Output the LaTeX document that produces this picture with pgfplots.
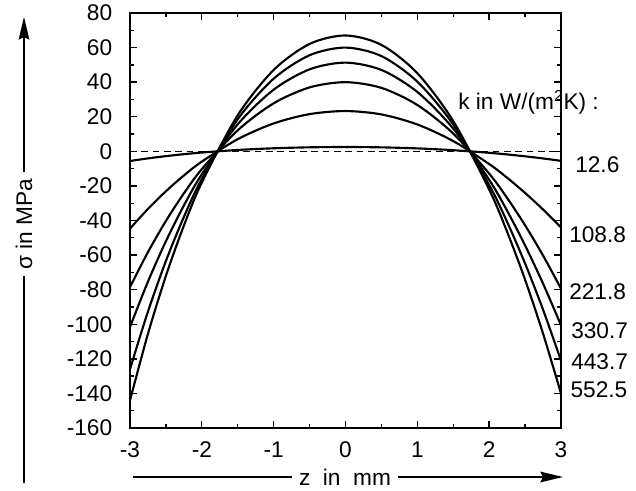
\documentclass[border=0pt]{standalone}
\usepackage{fontspec}
\setmainfont{Liberation Sans}
\usepackage{pgfplots}
\pgfplotsset{compat=1.18}
\usetikzlibrary{arrows.meta}
\begin{document}
\fontsize{17}{20}\selectfont
\begin{tikzpicture}[font=\fontsize{17}{20}\selectfont]
\useasboundingbox (-97.5pt,-46.5pt) rectangle (379.5pt,321pt);
\begin{axis}[at={(0pt,0pt)}, anchor=south west, scale only axis,
  width=323.25pt, height=311.25pt,
  xmin=-3, xmax=3, ymin=-160, ymax=80,
  xtick={-3,-2,-1,0,1,2,3}, ytick={-160,-140,-120,-100,-80,-60,-40,-20,0,20,40,60,80},
  minor x tick num=1, minor y tick num=1,
  tick align=inside,
  major tick length=5pt, minor tick length=3pt,
  axis line style={line width=1.5pt},
  tick style={line width=1pt, black},
  /pgf/number format/assume math mode=true,
  ticklabel style={font=\fontsize{17}{20}\selectfont},
  yticklabel style={xshift=-7.5pt},
  xticklabel style={yshift=-4.5pt},
  clip=false,
]
\addplot[black, line width=1.2pt, dash pattern=on 5pt off 3.5pt] coordinates {(-3,0) (3,0)};
\addplot[black, line width=1.6pt, smooth] coordinates {(-3,-5.6) (-2.75,-4.08) (-2.5,-2.77) (-2.25,-1.65) (-2,-0.69) (-1.5,0.79) (-1,1.77) (-0.5,2.32) (0,2.5) (0.5,2.30) (1,1.70) (1.5,0.66) (2,-0.85) (2.25,-1.79) (2.5,-2.88) (2.75,-4.11) (3,-5.5)};
\addplot[black, line width=1.6pt, smooth] coordinates {(-3,-44.7) (-2.75,-33.3) (-2.5,-23.08) (-2.25,-13.97) (-2,-5.94) (-1.5,7.04) (-1,16.14) (-0.5,21.52) (0,23.3) (0.5,21.35) (1,15.53) (1.5,5.92) (2,-7.34) (2.25,-15.28) (2.5,-24.06) (2.75,-33.65) (3,-44.0)};
\addplot[black, line width=1.6pt, smooth] coordinates {(-3,-78.5) (-2.75,-58.29) (-2.5,-40.27) (-2.25,-24.31) (-2,-10.31) (-1.5,12.16) (-1,27.78) (-0.5,36.97) (0,40) (0.5,36.70) (1,26.81) (1.5,10.29) (2,-12.88) (2.25,-26.97) (2.5,-42.76) (2.75,-60.23) (3,-79.4)};
\addplot[black, line width=1.6pt, smooth] coordinates {(-3,-101.6) (-2.75,-75.34) (-2.5,-51.98) (-2.25,-31.34) (-2,-13.28) (-1.5,15.64) (-1,35.66) (-0.5,47.42) (0,51.3) (0.5,47.06) (1,34.33) (1.5,13.15) (2,-16.44) (2.25,-34.37) (2.5,-54.39) (2.75,-76.47) (3,-100.6)};
\addplot[black, line width=1.6pt, smooth] coordinates {(-3,-126.0) (-2.75,-92.67) (-2.5,-63.41) (-2.25,-37.95) (-2,-15.97) (-1.5,18.59) (-1,42.01) (-0.5,55.57) (0,60) (0.5,55.08) (1,40.29) (1.5,15.51) (2,-19.44) (2.25,-40.82) (2.5,-64.84) (2.75,-91.55) (3,-121.0)};
\addplot[black, line width=1.6pt, smooth] coordinates {(-3,-144.0) (-2.75,-105.53) (-2.5,-72.01) (-2.25,-42.97) (-2,-18.03) (-1.5,20.89) (-1,47.05) (-0.5,62.10) (0,67) (0.5,61.57) (1,45.17) (1.5,17.48) (2,-22.07) (2.25,-46.53) (2.5,-74.24) (2.75,-105.37) (3,-140.0)};
\node[anchor=west, inner sep=0pt] at (axis cs:1.567,28.2) {k in W/(m\textsuperscript{2}K) :};
\node[anchor=west, inner sep=0pt, xshift=10.5pt] at (axis cs:3,-7.7) {12.6};
\node[anchor=west, inner sep=0pt, xshift=6pt] at (axis cs:3,-48.2) {108.8};
\node[anchor=west, inner sep=0pt, xshift=6pt] at (axis cs:3,-81) {221.8};
\node[anchor=west, inner sep=0pt, xshift=7.5pt] at (axis cs:3,-104) {330.7};
\node[anchor=west, inner sep=0pt, xshift=7.5pt] at (axis cs:3,-121.5) {443.7};
\node[anchor=west, inner sep=0pt, xshift=7pt] at (axis cs:3,-137.8) {552.5};
\end{axis}
\draw[line width=1.2pt, -{Stealth[length=17pt,width=8pt,inset=2pt]}] (2.25pt,-36.75pt) -- (324.75pt,-36.75pt);
\node[fill=white, inner xsep=5pt] at (161.25pt,-36.75pt) {z\ \ in\ \ mm};
\draw[line width=1.2pt, -{Stealth[length=17pt,width=8pt,inset=2pt]}] (-79.5pt,-41.25pt) -- (-79.5pt,308.25pt);
\node[fill=white, rotate=90, inner xsep=5pt] at (-79.5pt,153pt) {σ in MPa};
\end{tikzpicture}
\end{document}
